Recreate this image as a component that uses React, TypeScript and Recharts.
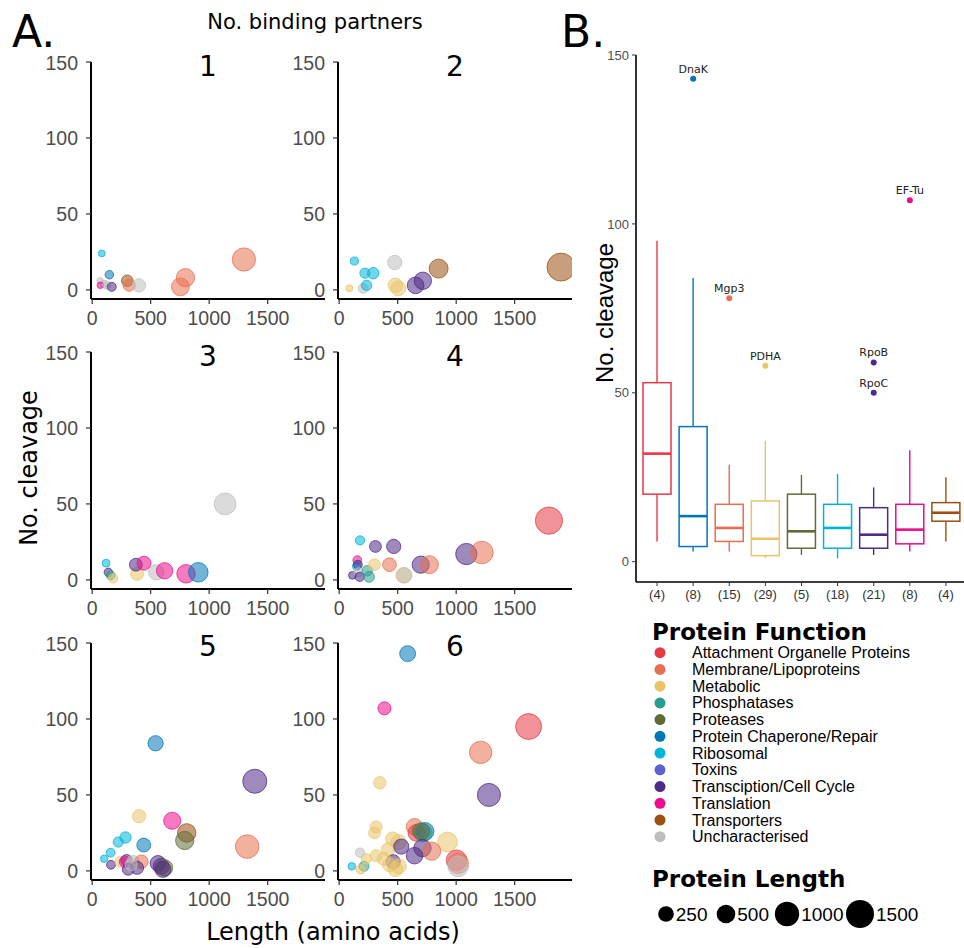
import React from 'react';
import { ScatterChart, Scatter, XAxis, YAxis, ZAxis, Cell, ComposedChart, Bar, Line } from 'recharts';

// ---------- categories ----------
const FUNCTIONS = [
  'Attachment Organelle Proteins',
  'Membrane/Lipoproteins',
  'Metabolic',
  'Phosphatases',
  'Proteases',
  'Protein Chaperone/Repair',
  'Ribosomal',
  'Toxins',
  'Transciption/Cell Cycle',
  'Translation',
  'Transporters',
  'Uncharacterised',
];
const COLORS = [
  '#E63946', '#E76F51', '#E9C46A', '#2A9D8F', '#606C38', '#0077B6',
  '#00B4D8', '#5E60CE', '#4F2A87', '#EC0C8C', '#9A5010', '#BDBDBD',
];

// ---------- panel A data: [length, cleavage, function index] ----------
const PANEL_1: number[][] = [
  [82, 24, 6], [147, 10, 5], [68, 6, 11], [100, 4, 11], [70, 3, 9], [125, 3, 11],
  [167, 2, 8], [300, 6, 10], [316, 3, 1], [400, 3, 11], [797, 8, 1], [754, 2, 1], [1297, 20, 1],
];
const PANEL_2: number[][] = [
  [87, 1, 2], [130, 19, 6], [220, 11, 6], [291, 11, 6], [205, 1, 11], [235, 3, 6],
  [475, 18, 11], [480, 3, 2], [505, 1, 2], [653, 3, 8], [715, 6, 8], [850, 14, 10], [1896, 15, 10],
];
const PANEL_3: number[][] = [
  [119, 11, 6], [138, 5, 8], [158, 3, 3], [180, 1, 2], [384, 4, 2], [373, 10, 8],
  [443, 11, 9], [548, 5, 11], [619, 6, 9], [802, 4, 9], [907, 5, 5], [1136, 50, 11],
];
const PANEL_4: number[][] = [
  [113, 3, 8], [155, 13, 9], [150, 9, 6], [160, 10, 8], [165, 5, 11], [175, 2, 8],
  [240, 6, 3], [255, 2, 3], [178, 26, 6], [310, 22, 8], [466, 22, 8], [302, 10, 2],
  [430, 10, 1], [551, 3, 2], [556, 3, 11], [697, 10, 8], [771, 10, 1], [1087, 17, 8],
  [1220, 18, 1], [1793, 39, 0],
];
const PANEL_5: number[][] = [
  [542, 84, 5], [1390, 59, 8], [401, 36, 2], [684, 33, 9], [808, 25, 10], [791, 20, 4],
  [1325, 16, 1], [441, 17, 5], [285, 22, 6], [223, 19, 6], [158, 12, 6], [102, 8, 6],
  [161, 4, 8], [240, 6, 2], [294, 7, 8], [280, 6, 9], [350, 6, 11], [421, 6, 1],
  [308, 1, 8], [384, 2, 8], [333, 4, 11], [562, 5, 8], [590, 3, 8], [619, 2, 4], [605, 1, 8],
];
const PANEL_6: number[][] = [
  [585, 143, 5], [387, 107, 9], [1619, 95, 0], [1209, 78, 1], [348, 58, 2], [1280, 50, 8],
  [316, 29, 2], [302, 25, 2], [644, 29, 1], [660, 25, 0], [735, 26, 5], [720, 25, 3], [700, 26, 4],
  [926, 19, 2], [458, 21, 2], [508, 19, 2], [420, 14, 2], [531, 16, 8], [712, 15, 8],
  [790, 13, 1], [644, 10, 8], [462, 6, 8], [510, 3, 2], [316, 10, 2], [380, 8, 2],
  [1003, 7, 0], [1017, 5, 1], [1017, 3, 11], [178, 12, 11], [108, 3, 6], [212, 3, 3],
  [184, 1, 2], [232, 8, 2], [430, 4, 2], [480, 1, 2],
];
const PANELS = [PANEL_1, PANEL_2, PANEL_3, PANEL_4, PANEL_5, PANEL_6];
const PANEL_TITLES = ['1', '2', '3', '4', '5', '6'];
const X_TICKS = [0, 500, 1000, 1500];
const Y_TICKS = [0, 50, 100, 150];

// ---------- panel B data ----------
const BOX_COUNTS = ['(4)', '(8)', '(15)', '(29)', '(5)', '(18)', '(21)', '(8)', '(4)'];
const BOX_FUNC = [0, 5, 1, 2, 4, 6, 8, 9, 10];
const BOX_LOW = [6, 3, 3, 1, 2, 1, 2, 3, 6];
const BOX_Q1 = [20, 4.5, 6, 1.8, 4, 4, 4, 5.3, 12];
const BOX_MED = [32, 13.5, 10, 6.8, 9, 10, 8, 9.5, 14.5];
const BOX_Q3 = [53, 40, 17, 18, 20, 17, 16, 17, 17.5];
const BOX_HIGH = [95, 84, 28.7, 35.8, 25.7, 26, 22, 33, 25];
const OUTLIER_1 = [null, 143, 78, 58, null, null, 59, 107, null];
const OUTLIER_1_NAME = ['', 'DnaK', 'Mgp3', 'PDHA', '', '', 'RpoB', 'EF-Tu', ''];
const OUTLIER_2 = [null, null, null, null, null, null, 50, null, null];
const OUTLIER_2_NAME = ['', '', '', '', '', '', 'RpoC', '', ''];

const SIZE_LEGEND = [250, 500, 1000, 1500];

// ---------- layout ----------
const COL_LEFT = [91, 338];
const ROW_TOP = [62, 352, 643];
const PW = 234;
const PH = 237;
const YW = 60;
const MT = 10;
const MR = 10;
const XH = 32;

const TICK_FONT = 'Liberation Sans, Arial, sans-serif';
const TITLE_FONT = 'DejaVu Sans, Verdana, sans-serif';

function Panel({ pts, idx }: { pts: number[][]; idx: number }) {
  const col = idx % 2;
  const row = Math.floor(idx / 2);
  const left = COL_LEFT[col];
  const top = ROW_TOP[row];
  const data = pts.map(([len, cleave, f]) => ({ len, cleave, f }));
  return (
    <div style={{ position: 'absolute', left: left - YW, top: top - MT }}>
      <ScatterChart
        width={YW + PW + MR}
        height={MT + PH + XH}
        margin={{ top: MT, right: MR, left: 0, bottom: 0 }}
      >
        <XAxis
          type="number"
          dataKey="len"
          domain={[-10, 1990]}
          ticks={X_TICKS}
          allowDataOverflow
          height={XH}
          axisLine={{ stroke: '#000', strokeWidth: 2 }}
          tickLine={{ stroke: '#333', strokeWidth: 1.2 }}
          tickSize={5}
          tickMargin={7}
          tick={{ fill: '#4d4d4d', fontSize: 19.5, fontFamily: TICK_FONT }}
        />
        <YAxis
          type="number"
          dataKey="cleave"
          domain={[-6, 150]}
          ticks={Y_TICKS}
          allowDataOverflow
          width={YW}
          axisLine={{ stroke: '#000', strokeWidth: 2 }}
          tickLine={{ stroke: '#333', strokeWidth: 1.2 }}
          tickSize={5}
          tickMargin={8}
          tick={{ fill: '#4d4d4d', fontSize: 19.5, fontFamily: TICK_FONT }}
        />
        <ZAxis type="number" dataKey="len" domain={[60, 1900]} range={[30, 616]} />
        <Scatter data={data} isAnimationActive={false}>
          {data.map((d, i) => (
            <Cell
              key={i}
              fill={COLORS[d.f]}
              fillOpacity={0.55}
              stroke={COLORS[d.f]}
              strokeOpacity={0.75}
              strokeWidth={1}
            />
          ))}
        </Scatter>
      </ScatterChart>
    </div>
  );
}

function BoxShape(props: any) {
  const { x, y, width, height } = props;
  const p = props.payload || props;
  const [lo, hi] = p.range;
  const pix = (v: number) => y + (height * (hi - v)) / (hi - lo);
  const cx = x + width / 2;
  const c = p.color;
  return (
    <g>
      <line x1={cx} x2={cx} y1={pix(hi)} y2={pix(p.q3)} stroke={c} strokeWidth={1.4} />
      <line x1={cx} x2={cx} y1={pix(p.q1)} y2={pix(lo)} stroke={c} strokeWidth={1.4} />
      <rect
        x={x}
        y={pix(p.q3)}
        width={width}
        height={pix(p.q1) - pix(p.q3)}
        fill="#fff"
        stroke={c}
        strokeWidth={1.5}
      />
      <line x1={x} x2={x + width} y1={pix(p.med)} y2={pix(p.med)} stroke={c} strokeWidth={2.6} />
    </g>
  );
}

const makeOutDot = (key: string, nameKey: string) => (p: any) => {
  const { cx, cy, payload, index } = p;
  if (!payload || payload[key] == null || cy == null || Number.isNaN(cy)) {
    return <g key={`${key}-${index}`} />;
  }
  return (
    <g key={`${key}-${index}`}>
      <circle cx={cx} cy={cy} r={3} fill={payload.color} />
      <text
        x={cx}
        y={cy - 6}
        textAnchor="middle"
        fontSize={11}
        fontFamily={TITLE_FONT}
        fill="#222"
      >
        {payload[nameKey]}
      </text>
    </g>
  );
};

function BoxPanel() {
  const data = BOX_COUNTS.map((label, i) => ({
    label,
    range: [BOX_LOW[i], BOX_HIGH[i]],
    q1: BOX_Q1[i],
    med: BOX_MED[i],
    q3: BOX_Q3[i],
    color: COLORS[BOX_FUNC[i]],
    out1: OUTLIER_1[i],
    out1Name: OUTLIER_1_NAME[i],
    out2: OUTLIER_2[i],
    out2Name: OUTLIER_2_NAME[i],
  }));
  const YWB = 40;
  const plotLeft = 636;
  const plotTop = 55;
  const plotW = 331;
  const plotH = 527;
  return (
    <div style={{ position: 'absolute', left: plotLeft - YWB, top: plotTop - 10 }}>
      <ComposedChart
        width={YWB + plotW}
        height={10 + plotH + 28}
        data={data}
        margin={{ top: 10, right: 0, left: 0, bottom: 0 }}
      >
        <XAxis
          dataKey="label"
          type="category"
          interval={0}
          padding={{ left: 3, right: 3 }}
          height={28}
          axisLine={{ stroke: '#000', strokeWidth: 1.6 }}
          tickLine={{ stroke: '#333' }}
          tickSize={4}
          tickMargin={4}
          tick={{ fill: '#333', fontSize: 13, fontFamily: TICK_FONT }}
        />
        <YAxis
          type="number"
          domain={[-6, 150]}
          ticks={Y_TICKS}
          allowDataOverflow
          width={YWB}
          axisLine={{ stroke: '#000', strokeWidth: 1.6 }}
          tickLine={{ stroke: '#333' }}
          tickSize={4}
          tickMargin={3}
          tick={{ fill: '#4d4d4d', fontSize: 13, fontFamily: TICK_FONT }}
        />
        <Bar dataKey="range" barSize={28} shape={BoxShape} isAnimationActive={false} />
        <Line
          dataKey="out1"
          stroke="none"
          dot={makeOutDot('out1', 'out1Name')}
          activeDot={false}
          isAnimationActive={false}
        />
        <Line
          dataKey="out2"
          stroke="none"
          dot={makeOutDot('out2', 'out2Name')}
          activeDot={false}
          isAnimationActive={false}
        />
      </ComposedChart>
    </div>
  );
}

function Overlay() {
  const titleX = [208, 455];
  const titleY = [76, 366, 656];
  const sizeCx = [666, 726, 787, 860];
  const sizeR = [7.8, 9.3, 12.2, 14];
  return (
    <svg
      width={964}
      height={948}
      style={{ position: 'absolute', left: 0, top: 0, pointerEvents: 'none' }}
    >
      <text x={12} y={47} fontSize={44} fontFamily={TITLE_FONT} fill="#000">A.</text>
      <text x={561} y={47} fontSize={44} fontFamily={TITLE_FONT} fill="#000">B.</text>
      <text x={315} y={29} fontSize={21} fontFamily={TITLE_FONT} textAnchor="middle" fill="#000">
        No. binding partners
      </text>
      {PANEL_TITLES.map((t, i) => (
        <text
          key={t}
          x={titleX[i % 2]}
          y={titleY[Math.floor(i / 2)]}
          fontSize={28}
          fontFamily={TITLE_FONT}
          textAnchor="middle"
          fill="#000"
        >
          {t}
        </text>
      ))}
      <text
        transform="translate(37,468) rotate(-90)"
        fontSize={24}
        fontFamily={TITLE_FONT}
        textAnchor="middle"
        fill="#000"
      >
        No. cleavage
      </text>
      <text x={333} y={940} fontSize={24} fontFamily={TITLE_FONT} textAnchor="middle" fill="#000">
        Length (amino acids)
      </text>
      <text
        transform="translate(613,313) rotate(-90)"
        fontSize={24}
        fontFamily={TICK_FONT}
        textAnchor="middle"
        fill="#000"
      >
        No. cleavage
      </text>

      <text x={652} y={640} fontSize={23} fontWeight="bold" fontFamily={TITLE_FONT} fill="#000">
        Protein Function
      </text>
      {FUNCTIONS.map((f, i) => {
        const cy = 652.7 + i * 16.73;
        return (
          <g key={f}>
            <circle cx={660} cy={cy} r={5.5} fill={COLORS[i]} />
            <text x={692} y={cy + 5.5} fontSize={16} fontFamily={TICK_FONT} fill="#000">
              {f}
            </text>
          </g>
        );
      })}
      <text x={652} y={887} fontSize={23} fontWeight="bold" fontFamily={TITLE_FONT} fill="#000">
        Protein Length
      </text>
      {SIZE_LEGEND.map((s, i) => (
        <g key={s}>
          <circle cx={sizeCx[i]} cy={914} r={sizeR[i]} fill="#000" />
          <text
            x={sizeCx[i] + sizeR[i] + 2}
            y={921}
            fontSize={19}
            fontFamily={TICK_FONT}
            fill="#000"
          >
            {s}
          </text>
        </g>
      ))}
    </svg>
  );
}

export default function App() {
  return (
    <div
      style={{
        position: 'absolute',
        left: 0,
        top: 0,
        width: 964,
        height: 948,
        overflow: 'hidden',
        background: '#fff',
      }}
    >
      {PANELS.map((p, i) => (
        <Panel key={i} pts={p} idx={i} />
      ))}
      <BoxPanel />
      <Overlay />
    </div>
  );
}
